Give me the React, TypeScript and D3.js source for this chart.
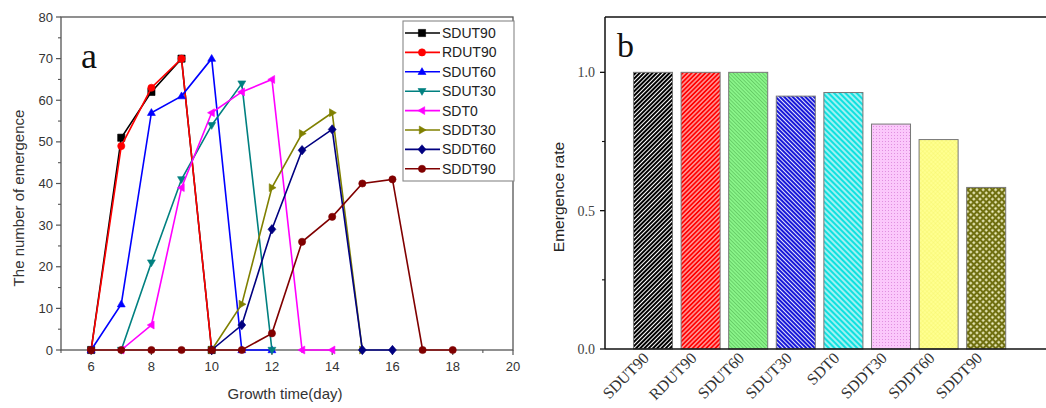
import React from 'react';
import * as d3 from 'd3';

// ---------- Chart a data ----------
const seriesNames = ['SDUT90', 'RDUT90', 'SDUT60', 'SDUT30', 'SDT0', 'SDDT30', 'SDDT60', 'SDDT90'];
const seriesColors = ['#000000', '#ff0000', '#0000ff', '#008080', '#ff00ff', '#808000', '#000080', '#800000'];
const seriesMarkers = ['square', 'circle', 'up', 'down', 'left', 'right', 'diamond', 'circle'];
const seriesStartDay = [6, 6, 6, 7, 7, 10, 10, 6];
const sdut90 = [0, 51, 62, 70, 0];
const rdut90 = [0, 49, 63, 70, 0];
const sdut60 = [0, 11, 57, 61, 70, 0, 0];
const sdut30 = [0, 21, 41, 54, 64, 0];
const sdt0 = [0, 6, 39, 57, 62, 65, 0, 0];
const sddt30 = [0, 11, 39, 52, 57, 0];
const sddt60 = [0, 6, 29, 48, 53, 0, 0];
const sddt90 = [0, 0, 0, 0, 0, 0, 4, 26, 32, 40, 41, 0, 0];
const seriesValues = [sdut90, rdut90, sdut60, sdut30, sdt0, sddt30, sddt60, sddt90];
const xMajorTicks = [6, 8, 10, 12, 14, 16, 18, 20];
const xMinorTicks = [5, 7, 9, 11, 13, 15, 17, 19];
const yMajorTicks = [0, 10, 20, 30, 40, 50, 60, 70, 80];
const yMinorTicks = [5, 15, 25, 35, 45, 55, 65, 75];

// ---------- Chart b data ----------
const barCategories = ['SDUT90', 'RDUT90', 'SDUT60', 'SDUT30', 'SDT0', 'SDDT30', 'SDDT60', 'SDDT90'];
const barValues = [1.0, 1.0, 1.0, 0.914, 0.927, 0.813, 0.757, 0.584];
const barPatterns = ['pBlack', 'pRed', 'pGreen', 'pBlue', 'pCyan', 'pPink', 'pYellow', 'pOlive'];
const bMajorTicks = [0, 0.5, 1.0];
const bMinorTicks = [0.25, 0.75];

const SANS = 'Arial, "Liberation Sans", sans-serif';
const SERIF = '"Times New Roman", "Liberation Serif", serif';

function markerPath(kind: string, r: number): string {
  switch (kind) {
    case 'square':
      return `M${-r},${-r}H${r}V${r}H${-r}Z`;
    case 'circle':
      return d3.symbol(d3.symbolCircle, Math.PI * r * r)() as string;
    case 'up':
      return `M0,${-r * 1.15}L${r * 1.1},${r * 0.75}L${-r * 1.1},${r * 0.75}Z`;
    case 'down':
      return `M0,${r * 1.15}L${r * 1.1},${-r * 0.75}L${-r * 1.1},${-r * 0.75}Z`;
    case 'left':
      return `M${-r * 1.15},0L${r * 0.75},${-r * 1.1}L${r * 0.75},${r * 1.1}Z`;
    case 'right':
      return `M${r * 1.15},0L${-r * 0.75},${-r * 1.1}L${-r * 0.75},${r * 1.1}Z`;
    case 'diamond':
      return `M0,${-r * 1.3}L${r * 1.1},0L0,${r * 1.3}L${-r * 1.1},0Z`;
    default:
      return '';
  }
}

function ChartA() {
  const x = d3.scaleLinear().domain([5, 20]).range([61, 513]);
  const y = d3.scaleLinear().domain([0, 80]).range([350, 17]);
  const line = d3
    .line<[number, number]>()
    .x((d) => x(d[0]))
    .y((d) => y(d[1]));
  const axisColor = '#555';
  const series = seriesValues.map((vals, i) =>
    vals.map((v, j) => [seriesStartDay[i] + j, v] as [number, number])
  );
  const legendTop = 33;
  const legendStep = 19.4;
  return (
    <g>
      {/* frame */}
      <rect x={x(5)} y={y(80)} width={x(20) - x(5)} height={y(0) - y(80)} fill="none" stroke={axisColor} strokeWidth={1.3} />
      {/* y ticks */}
      {yMajorTicks.map((t) => (
        <g key={'ym' + t}>
          <line x1={x(5) - 5} x2={x(5)} y1={y(t)} y2={y(t)} stroke={axisColor} strokeWidth={1.2} />
          <text x={x(5) - 8} y={y(t)} dy="0.35em" textAnchor="end" fontFamily={SANS} fontSize={13} fill="#333">
            {t}
          </text>
        </g>
      ))}
      {yMinorTicks.map((t) => (
        <line key={'yn' + t} x1={x(5) - 3} x2={x(5)} y1={y(t)} y2={y(t)} stroke={axisColor} strokeWidth={1.1} />
      ))}
      {/* x ticks */}
      {xMajorTicks.map((t) => (
        <g key={'xm' + t}>
          <line x1={x(t)} x2={x(t)} y1={y(0)} y2={y(0) + 5} stroke={axisColor} strokeWidth={1.2} />
          <text x={x(t)} y={y(0) + 21} textAnchor="middle" fontFamily={SANS} fontSize={13} fill="#333">
            {t}
          </text>
        </g>
      ))}
      {xMinorTicks.map((t) => (
        <line key={'xn' + t} x1={x(t)} x2={x(t)} y1={y(0)} y2={y(0) + 3} stroke={axisColor} strokeWidth={1.1} />
      ))}
      {/* axis titles */}
      <text x={285} y={399} textAnchor="middle" fontFamily={SANS} fontSize={15} fill="#333">
        Growth time(day)
      </text>
      <text transform="translate(24,198) rotate(-90)" textAnchor="middle" fontFamily={SANS} fontSize={15} fill="#333">
        The number of emergence
      </text>
      {/* lines */}
      {series.map((pts, i) => (
        <g key={'s' + i}>
          <path d={line(pts) as string} fill="none" stroke={seriesColors[i]} strokeWidth={1.6} />
          {pts.map((p, j) => (
            <path
              key={j}
              d={markerPath(seriesMarkers[i], 3.6)}
              transform={`translate(${x(p[0])},${y(p[1])})`}
              fill={seriesColors[i]}
              stroke={seriesColors[i]}
              strokeWidth={0.6}
            />
          ))}
        </g>
      ))}
      {/* legend */}
      <rect x={403} y={21} width={111} height={160} fill="#fff" stroke="#888" strokeWidth={1.1} />
      {seriesNames.map((n, i) => {
        const ly = legendTop + i * legendStep;
        return (
          <g key={'l' + i}>
            <line x1={405} x2={440} y1={ly} y2={ly} stroke={seriesColors[i]} strokeWidth={1.6} />
            <path d={markerPath(seriesMarkers[i], 3.6)} transform={`translate(422,${ly})`} fill={seriesColors[i]} stroke={seriesColors[i]} strokeWidth={0.6} />
            <text x={442} y={ly} dy="0.36em" fontFamily={SANS} fontSize={14} fill="#222">
              {n}
            </text>
          </g>
        );
      })}
      <text x={81} y={68} fontFamily={SERIF} fontSize={36} fill="#111">
        a
      </text>
    </g>
  );
}

function Patterns() {
  return (
    <defs>
      <pattern id="pBlack" width={3} height={3} patternUnits="userSpaceOnUse" patternTransform="rotate(45)">
        <rect width={3} height={3} fill="#000" />
        <line x1={1.5} y1={0} x2={1.5} y2={3} stroke="#fff" strokeWidth={1.0} />
      </pattern>
      <pattern id="pRed" width={3.2} height={3.2} patternUnits="userSpaceOnUse" patternTransform="rotate(45)">
        <rect width={3.2} height={3.2} fill="#f00" />
        <line x1={1.6} y1={0} x2={1.6} y2={3.2} stroke="#fff" strokeWidth={0.9} />
      </pattern>
      <pattern id="pGreen" width={2.6} height={2.6} patternUnits="userSpaceOnUse" patternTransform="rotate(-45)">
        <rect width={2.6} height={2.6} fill="#8af58a" />
        <line x1={1.3} y1={0} x2={1.3} y2={2.6} stroke="#5cc05c" strokeWidth={0.7} />
      </pattern>
      <pattern id="pBlue" width={3} height={3} patternUnits="userSpaceOnUse" patternTransform="rotate(-45)">
        <rect width={3} height={3} fill="#1818d8" />
        <line x1={1.5} y1={0} x2={1.5} y2={3} stroke="#fff" strokeWidth={0.9} />
      </pattern>
      <pattern id="pCyan" width={4} height={4} patternUnits="userSpaceOnUse" patternTransform="rotate(-45)">
        <rect width={4} height={4} fill="#10e0e0" />
        <line x1={2} y1={0} x2={2} y2={4} stroke="#fff" strokeWidth={1.2} />
      </pattern>
      <pattern id="pPink" width={3} height={3} patternUnits="userSpaceOnUse">
        <rect width={3} height={3} fill="#fbc8fb" />
        <rect x={0} y={0} width={1} height={1} fill="#e090e0" />
      </pattern>
      <pattern id="pYellow" width={3} height={3} patternUnits="userSpaceOnUse" patternTransform="rotate(45)">
        <rect width={3} height={3} fill="#ffff90" />
        <line x1={0} y1={0} x2={0} y2={3} stroke="#f0f060" strokeWidth={0.6} />
        <line x1={0} y1={0} x2={3} y2={0} stroke="#f0f060" strokeWidth={0.6} />
      </pattern>
      <pattern id="pOlive" width={4.4} height={4.4} patternUnits="userSpaceOnUse" patternTransform="rotate(45)">
        <rect width={4.4} height={4.4} fill="#6f6f10" />
        <rect x={1.1} y={1.1} width={2.2} height={2.2} fill="#f4f4c8" />
      </pattern>
    </defs>
  );
}

function ChartB() {
  const xb = d3.scaleBand<string>().domain(barCategories).range([629.2, 1010]).paddingInner(0.18).paddingOuter(0.09);
  const yb = d3.scaleLinear().domain([0, 1.2]).range([349, 17]);
  const left = 605;
  return (
    <g>
      {barCategories.map((c, i) => (
        <rect
          key={c}
          x={xb(c)}
          y={yb(barValues[i])}
          width={xb.bandwidth()}
          height={yb(0) - yb(barValues[i])}
          fill={`url(#${barPatterns[i]})`}
          stroke="#777"
          strokeWidth={1}
        />
      ))}
      <line x1={left} x2={1046} y1={yb(1.2)} y2={yb(1.2)} stroke="#111" strokeWidth={1.5} />
      <line x1={left} x2={left} y1={yb(1.2)} y2={yb(0)} stroke="#111" strokeWidth={1.5} />
      <line x1={left} x2={1046} y1={yb(0)} y2={yb(0)} stroke="#111" strokeWidth={1.5} />
      {bMajorTicks.map((t) => (
        <g key={'bm' + t}>
          <line x1={left - 5} x2={left} y1={yb(t)} y2={yb(t)} stroke="#111" strokeWidth={1.3} />
          <text x={left - 10} y={yb(t)} dy="0.35em" textAnchor="end" fontFamily={SERIF} fontSize={14} fill="#444">
            {d3.format('.1f')(t)}
          </text>
        </g>
      ))}
      {bMinorTicks.map((t) => (
        <line key={'bn' + t} x1={left - 3} x2={left} y1={yb(t)} y2={yb(t)} stroke="#111" strokeWidth={1.1} />
      ))}
      <text transform="translate(564,197) rotate(-90)" textAnchor="middle" fontFamily={SANS} fontSize={15.5} fill="#222">
        Emergence rate
      </text>
      {barCategories.map((c) => {
        const cx = (xb(c) as number) + xb.bandwidth() / 2;
        return (
          <text
            key={'bl' + c}
            transform={`translate(${cx - 3},359) rotate(-45)`}
            textAnchor="end"
            fontFamily={SERIF}
            fontSize={16}
            fill="#333"
          >
            {c}
          </text>
        );
      })}
      <text x={617} y={57} fontFamily={SERIF} fontSize={34} fill="#111">
        b
      </text>
    </g>
  );
}

export default function App() {
  return (
    <svg
      width={1046}
      height={408}
      viewBox="0 0 1046 408"
      style={{ position: 'absolute', left: 0, top: 0, background: '#fff' }}
    >
      <rect width={1046} height={408} fill="#fff" />
      <Patterns />
      <ChartA />
      <ChartB />
    </svg>
  );
}
